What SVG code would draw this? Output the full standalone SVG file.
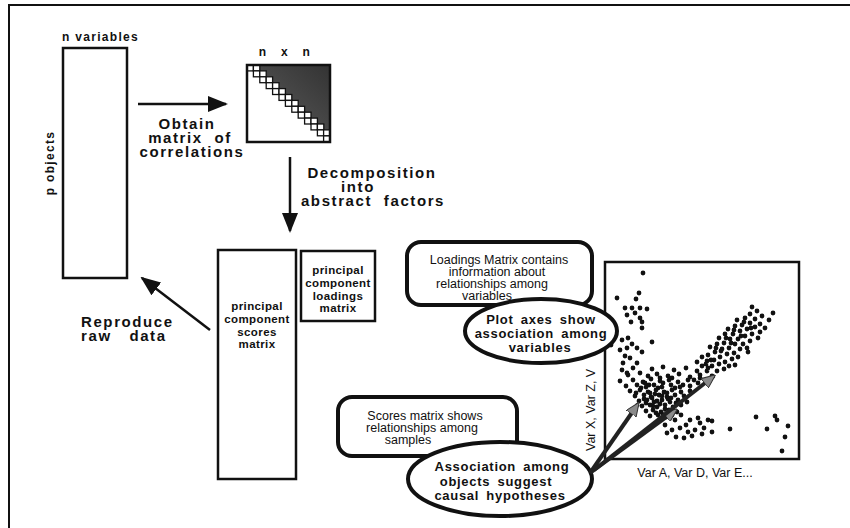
<svg xmlns="http://www.w3.org/2000/svg" width="850" height="528" viewBox="0 0 850 528">
  <defs>
    <style>
      .lbl { font-family: "Liberation Sans", Arial, sans-serif; font-weight: bold; fill: #111; }
      .big { font-size: 15px; letter-spacing: 1.6px; word-spacing: 6px; }
      .sm { font-size: 12px; letter-spacing: 1.3px; }
      .box { font-size: 11.5px; letter-spacing: 0.4px; }
      .bub { font-family: "Liberation Sans", Arial, sans-serif; font-size: 12.5px; fill: #111; }
      .bubb { font-family: "Liberation Sans", Arial, sans-serif; font-weight: bold; font-size: 13px; letter-spacing: 0.7px; word-spacing: 3px; fill: #111; }
      .mat { fill: #fff; stroke: #111; stroke-width: 2.5; }
      .call { fill: #fff; stroke: #111; stroke-width: 4; }
      .flow { stroke: #111; stroke-width: 2.5; fill: none; }
      .ptr { stroke: #222; stroke-width: 4; fill: none; }
    </style>
    <marker id="head" viewBox="0 0 20 16" refX="18" refY="8" markerWidth="20" markerHeight="16" markerUnits="userSpaceOnUse" orient="auto">
      <path d="M0 0 L20 8 L0 16 Z" fill="#111"/>
    </marker>
    <marker id="grayhead" viewBox="0 0 14 12" refX="12" refY="6" markerWidth="14" markerHeight="12" markerUnits="userSpaceOnUse" orient="auto">
      <path d="M0 0 L14 6 L0 12 Z" fill="#8a8a8a" stroke="#333" stroke-width="1"/>
    </marker>
    <linearGradient id="shade" x1="1" y1="0" x2="0.3" y2="0.7">
      <stop offset="0" stop-color="#333"/>
      <stop offset="0.7" stop-color="#4a4a4a"/>
      <stop offset="1" stop-color="#a0a0a0"/>
    </linearGradient>
  </defs>

  <!-- page frame -->
  <path d="M9 528 V5 H850" fill="none" stroke="#111" stroke-width="2"/>

  <!-- raw data matrix -->
  <g id="raw-data">
    <rect class="mat" x="63" y="48" width="64" height="230"/>
    <text class="lbl sm" x="62" y="41">n variables</text>
    <text class="lbl sm" transform="translate(54,163) rotate(-90)" text-anchor="middle">p objects</text>
  </g>

  <!-- correlation matrix -->
  <g id="correlation-matrix">
    <text class="lbl sm" x="285" y="56" text-anchor="middle" word-spacing="9">n x n</text>
    <rect x="247" y="65" width="83" height="77" fill="#fff"/>
    <polygon points="247,65 330,65 330,142" fill="url(#shade)"/>
    <g fill="#fff" stroke="#111" stroke-width="1.3">
      <rect x="247.0" y="65.0" width="6.4" height="5.9"/><rect x="253.4" y="65.0" width="6.4" height="5.9"/>
      <rect x="253.4" y="70.9" width="6.4" height="5.9"/><rect x="259.8" y="70.9" width="6.4" height="5.9"/>
      <rect x="259.8" y="76.8" width="6.4" height="5.9"/><rect x="266.2" y="76.8" width="6.4" height="5.9"/>
      <rect x="266.2" y="82.7" width="6.4" height="5.9"/><rect x="272.6" y="82.7" width="6.4" height="5.9"/>
      <rect x="272.6" y="88.6" width="6.4" height="5.9"/><rect x="279.0" y="88.6" width="6.4" height="5.9"/>
      <rect x="279.0" y="94.5" width="6.4" height="5.9"/><rect x="285.4" y="94.5" width="6.4" height="5.9"/>
      <rect x="285.4" y="100.4" width="6.4" height="5.9"/><rect x="291.8" y="100.4" width="6.4" height="5.9"/>
      <rect x="291.8" y="106.3" width="6.4" height="5.9"/><rect x="298.2" y="106.3" width="6.4" height="5.9"/>
      <rect x="298.2" y="112.2" width="6.4" height="5.9"/><rect x="304.6" y="112.2" width="6.4" height="5.9"/>
      <rect x="304.6" y="118.1" width="6.4" height="5.9"/><rect x="311.0" y="118.1" width="6.4" height="5.9"/>
      <rect x="311.0" y="124.0" width="6.4" height="5.9"/><rect x="317.4" y="124.0" width="6.4" height="5.9"/>
      <rect x="317.4" y="129.9" width="6.4" height="5.9"/><rect x="323.6" y="129.9" width="6.4" height="5.9"/>
      <rect x="323.6" y="135.9" width="6.4" height="6.1"/>
    </g>
    <rect x="247" y="65" width="83" height="77" fill="none" stroke="#111" stroke-width="2.5"/>
  </g>

  <!-- principal component scores matrix -->
  <g id="scores-matrix">
    <rect class="mat" x="218" y="250" width="78" height="229"/>
    <text class="lbl box" x="257" text-anchor="middle"><tspan x="257" y="310">principal</tspan><tspan x="257" y="323">component</tspan><tspan x="257" y="336">scores</tspan><tspan x="257" y="348">matrix</tspan></text>
  </g>

  <!-- principal component loadings matrix -->
  <g id="loadings-matrix">
    <rect class="mat" x="301" y="251" width="74" height="70"/>
    <text class="lbl box" x="338" text-anchor="middle"><tspan x="338" y="274">principal</tspan><tspan x="338" y="287">component</tspan><tspan x="338" y="300">loadings</tspan><tspan x="338" y="312">matrix</tspan></text>
  </g>

  <!-- flow arrows between the matrices -->
  <g id="connectors">
    <line class="flow" x1="138" y1="104" x2="226" y2="104" marker-end="url(#head)"/>
    <line class="flow" x1="290" y1="157" x2="290" y2="231" marker-end="url(#head)"/>
    <line class="flow" x1="210" y1="330" x2="142" y2="278" marker-end="url(#head)"/>
  </g>

  <!-- step labels -->
  <g id="step-labels">
    <text class="lbl big" text-anchor="middle"><tspan x="187" y="129">Obtain</tspan><tspan x="190" y="143">matrix of</tspan><tspan x="192" y="157">correlations</tspan></text>
    <text class="lbl big" text-anchor="middle"><tspan x="372" y="178">Decomposition</tspan><tspan x="358" y="192">into</tspan><tspan x="373" y="206">abstract factors</tspan></text>
    <text class="lbl big" x="81"><tspan x="81" y="327">Reproduce</tspan><tspan x="81" y="341" word-spacing="12">raw data</tspan></text>
  </g>

  <!-- scatter plot of scores -->
  <g id="scatter-plot">
    <rect x="605" y="262" width="194" height="197" fill="#fff" stroke="#111" stroke-width="2.5"/>
    <path fill="none" stroke="#111" stroke-width="4.8" stroke-linecap="round" d="
      M643 273h0 M617 298h0 M639 293h0 M636 299h0 M625 308h0 M632 308h0 M640 308h0 M647 309h0 M627 315h0 M635 313h0
      M640 318h0 M631 322h0 M642 322h0 M642 328h0 M622 340h0 M628 338h0 M652 342h0 M632 344h0 M620 350h0 M627 348h0
      M637 348h0 M642 352h0 M625 356h0 M630 358h0 M623 363h0 M637 363h0 M633 368h0 M622 370h0 M627 373h0 M611 345h0
      M652 369h0 M663 367h0 M674 370h0 M686 368h0 M697 371h0 M708 368h0
      M628 375h0 M640 373h0 M648 376h0 M657 374h0 M668 376h0 M679 374h0 M690 377h0 M700 375h0
      M620 381h0 M633 380h0 M643 382h0 M651 379h0 M660 381h0 M669 380h0 M678 382h0 M688 380h0 M698 383h0
      M626 386h0 M637 385h0 M646 387h0 M654 385h0 M662 387h0 M671 385h0 M680 387h0 M690 386h0
      M630 391h0 M640 390h0 M648 392h0 M656 390h0 M664 392h0 M672 390h0 M681 392h0 M690 391h0
      M635 396h0 M644 395h0 M651 397h0 M659 395h0 M667 397h0 M675 395h0 M684 396h0
      M639 401h0 M647 400h0 M654 402h0 M662 400h0 M670 402h0 M678 400h0 M687 402h0
      M642 406h0 M650 405h0 M657 407h0 M665 405h0 M673 407h0 M681 405h0
      M646 411h0 M653 410h0 M661 412h0 M669 410h0 M677 412h0 M650 416h0 M658 415h0 M666 417h0
      M645 383h0 M658 388h0 M667 393h0 M652 398h0 M660 404h0 M668 399h0 M675 388h0 M650 393h0 M663 383h0
      M641 388h0 M649 385h0 M655 394h0 M662 396h0 M671 398h0 M657 401h0 M665 409h0 M653 406h0 M646 403h0 M676 403h0
      M683 385h0 M685 399h0 M660 378h0 M672 378h0 M636 393h0 M644 399h0 M656 413h0 M663 414h0 M672 415h0 M694 380h0
      M665 425h0 M672 430h0 M680 428h0 M688 432h0 M695 430h0 M700 423h0 M708 420h0 M676 437h0 M684 438h0 M692 436h0
      M702 434h0 M667 433h0 M712 432h0 M698 418h0 M690 420h0 M675 420h0 M686 425h0 M704 428h0 M660 420h0 M681 415h0
      M702 366h0 M707 371h0 M712 376h0 M702 357h0 M707 361h0 M712 366h0 M717 371h0
      M708 355h0 M714 360h0 M719 364h0 M724 369h0 M710 347h0 M715 352h0 M720 357h0 M725 362h0 M729 366h0
      M717 344h0 M722 349h0 M727 354h0 M732 359h0 M719 338h0 M724 343h0 M729 348h0 M734 353h0 M738 357h0
      M725 334h0 M730 339h0 M735 344h0 M740 349h0 M728 329h0 M733 334h0 M738 339h0 M743 344h0 M747 348h0
      M735 326h0 M740 331h0 M745 336h0 M750 341h0 M737 320h0 M742 325h0 M747 329h0 M752 334h0
      M745 318h0 M750 323h0 M755 327h0 M760 332h0 M750 314h0 M755 319h0 M760 324h0 M757 311h0 M762 316h0
      M752 307h0 M773 313h0 M769 320h0 M765 328h0 M758 338h0 M748 352h0 M735 365h0 M700 378h0 M697 362h0
      M711 360h0 M721 351h0 M731 343h0 M741 336h0 M751 328h0 M744 322h0 M734 330h0 M726 338h0 M716 348h0 M706 364h0
      M756 417h0 M775 416h0 M777 420h0 M788 426h0 M785 437h0 M782 451h0 M767 429h0 M730 429h0 M712 421h0"/>
    <text class="bub" font-size="13" x="695" y="477" text-anchor="middle">Var A, Var D, Var E...</text>
    <text class="bub" font-size="13" transform="translate(594.5,451) rotate(-90)">Var X, Var Z, V</text>
  </g>

  <!-- callout: loadings -->
  <g id="callout-loadings">
    <rect class="call" x="407" y="242" width="185" height="63" rx="14"/>
    <text class="bub" text-anchor="middle"><tspan x="499" y="264">Loadings Matrix contains</tspan><tspan x="497" y="276">information about</tspan><tspan x="492" y="288">relationships among</tspan><tspan x="487" y="300">variables</tspan></text>
  </g>

  <!-- callout: plot axes -->
  <g id="callout-axes">
    <ellipse class="call" cx="541" cy="331" rx="76" ry="32"/>
    <text class="bubb" text-anchor="middle"><tspan x="541" y="324">Plot axes show</tspan><tspan x="541" y="338">association among</tspan><tspan x="540" y="352">variables</tspan></text>
  </g>

  <!-- callout: scores -->
  <g id="callout-scores">
    <rect class="call" x="338" y="397" width="179" height="59" rx="14"/>
    <text class="bub" text-anchor="middle"><tspan x="425" y="420">Scores matrix shows</tspan><tspan x="422" y="432">relationships among</tspan><tspan x="408" y="444">samples</tspan></text>
  </g>

  <!-- callout: association among objects, with pointers into the scatter -->
  <g id="callout-objects">
    <ellipse class="call" cx="500" cy="479" rx="92" ry="37"/>
    <text class="bubb" text-anchor="middle"><tspan x="502" y="471">Association among</tspan><tspan x="496" y="486">objects suggest</tspan><tspan x="500" y="500">causal hypotheses</tspan></text>
  </g>

  <g id="pointers">
    <line class="ptr" x1="590" y1="473" x2="638" y2="404" marker-end="url(#grayhead)"/>
    <line class="ptr" x1="590" y1="473" x2="676" y2="410" marker-end="url(#grayhead)"/>
    <line class="ptr" x1="594" y1="470" x2="714" y2="376" marker-end="url(#grayhead)"/>
  </g>
</svg>
